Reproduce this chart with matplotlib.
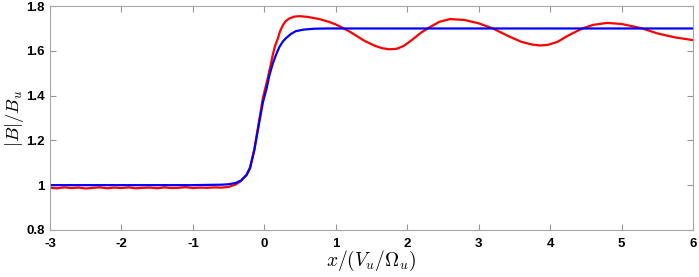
import matplotlib
matplotlib.use('Agg')
import matplotlib.pyplot as plt

# values
blue_x = [-3.0, -1.0, -0.6, -0.5, -0.4, -0.33, -0.25, -0.2, -0.14, -0.08, -0.02,
          0.03, 0.07, 0.12, 0.16, 0.21, 0.26, 0.30, 0.37, 0.44, 0.55, 0.7, 0.9, 6.0]
blue_y = [1.000, 1.000, 1.002, 1.004, 1.010, 1.020, 1.045, 1.075, 1.157, 1.265, 1.37,
          1.43, 1.49, 1.545, 1.58, 1.617, 1.642, 1.656, 1.675, 1.688, 1.695, 1.699, 1.700, 1.700]

red_x = [-3.0, -2.9, -2.8, -2.7, -2.6, -2.5, -2.4, -2.3, -2.2, -2.1, -2.0,
         -1.9, -1.8, -1.7, -1.6, -1.5, -1.4, -1.3, -1.2, -1.1, -1.0,
         -0.9, -0.8, -0.7, -0.6, -0.5, -0.4, -0.33, -0.25, -0.2, -0.14,
         -0.08, -0.02, 0.03, 0.056, 0.09, 0.117, 0.15, 0.19, 0.22, 0.26, 0.30,
         0.35, 0.42, 0.49, 0.6, 0.77, 0.9, 1.0, 1.1, 1.2, 1.3, 1.4, 1.55, 1.65, 1.74,
         1.85, 1.95, 2.05, 2.2, 2.3, 2.45, 2.6, 2.8, 3.0, 3.2, 3.4, 3.6, 3.75, 3.86,
         3.97, 4.1, 4.25, 4.45, 4.6, 4.8, 5.0, 5.15, 5.29, 5.5, 5.75, 6.0]
red_y = [0.988, 0.986, 0.990, 0.987, 0.989, 0.985, 0.988, 0.990, 0.986, 0.989, 0.987,
         0.990, 0.986, 0.988, 0.989, 0.986, 0.990, 0.987, 0.988, 0.991, 0.987,
         0.989, 0.988, 0.990, 0.989, 0.992, 1.003, 1.018, 1.045, 1.08, 1.16,
         1.275, 1.39, 1.455, 1.49, 1.54, 1.581, 1.622, 1.656, 1.688, 1.715, 1.733,
         1.745, 1.753, 1.755, 1.752, 1.742, 1.730, 1.718, 1.702, 1.685, 1.665, 1.645, 1.622, 1.612, 1.607,
         1.609, 1.622, 1.645, 1.683, 1.703, 1.730, 1.742, 1.738, 1.723, 1.700, 1.668, 1.640, 1.628, 1.624,
         1.627, 1.640, 1.668, 1.700, 1.716, 1.725, 1.720, 1.710, 1.700, 1.678, 1.660, 1.648]

x_ticks = [-3, -2, -1, 0, 1, 2, 3, 4, 5, 6]
y_ticks = [0.8, 1.0, 1.2, 1.4, 1.6, 1.8]
y_labels = ['0.8', '1', '1.2', '1.4', '1.6', '1.8']

plt.rcParams['font.family'] = ['Liberation Sans', 'DejaVu Sans']
plt.rcParams['mathtext.fontset'] = 'cm'

fig = plt.figure(figsize=(6.99, 2.77), dpi=100)
ax = fig.add_axes([0.0715, 0.170, 0.92, 0.808])

ax.plot(red_x, red_y, color='#ff0000', lw=1.6)
ax.plot(blue_x, blue_y, color='#0000ff', lw=1.6)

ax.set_xlim(-3, 6)
ax.set_ylim(0.8, 1.8)
ax.set_xticks(x_ticks)
ax.set_xticklabels([str(t) for t in x_ticks], fontweight='bold')
ax.set_yticks(y_ticks)
ax.set_yticklabels(y_labels, fontweight='bold')
ax.tick_params(direction='in', length=4, color='0.6', labelsize=9.5, top=True, right=True,
               labelcolor='black')
ax.tick_params(axis='x', pad=6)
ax.tick_params(axis='y', pad=4)
for s in ax.spines.values():
    s.set_color('0.65')
    s.set_linewidth(0.8)

ax.set_xlabel(r'$x/(V_u/\Omega_u)$', fontsize=14, labelpad=-1)
ax.set_ylabel(r'$|B|/B_u$', fontsize=13.5, labelpad=0)

fig.savefig('out.png', dpi=100)
